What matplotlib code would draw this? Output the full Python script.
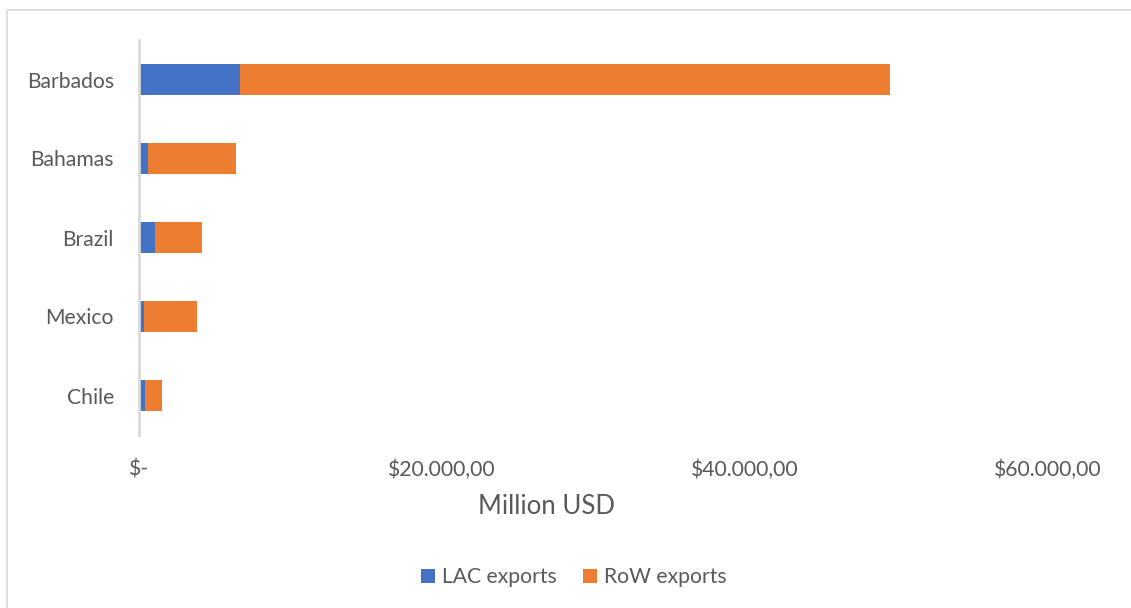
import matplotlib
matplotlib.use("Agg")
import matplotlib.pyplot as plt
from matplotlib.patches import Rectangle

# Export values (million USD)
countries = ["Barbados", "Bahamas", "Brazil", "Mexico", "Chile"]
lac_exports = [6650, 575, 1075, 350, 400]
row_exports = [42900, 5810, 3100, 3480, 1120]
x_ticks = [0, 20000, 40000, 60000]
x_tick_labels = ["$-", "$20.000,00", "$40.000,00", "$60.000,00"]

W, H = 1131, 608
fig = plt.figure(figsize=(W / 100, H / 100), dpi=100)
plt.rcParams["font.family"] = ["Lato", "DejaVu Sans"]

# outer chart frame
fig.patches.append(Rectangle((7 / W, -0.5), 1.2, 1.5 - 10 / H, transform=fig.transFigure,
                             fill=False, edgecolor="#D9D9D9", linewidth=1.2))

ax = fig.add_axes([139 / W, 1 - 435 / H, (1048 - 139) / W, 395 / H])
ypos = list(range(len(countries)))
ax.barh(ypos, lac_exports, height=0.4, color="#4472C4", label="LAC exports")
ax.barh(ypos, row_exports, left=lac_exports, height=0.4, color="#ED7D31", label="RoW exports")

ax.set_ylim(len(countries) - 0.5, -0.5)
ax.set_xlim(0, 60000)
ax.set_yticks(ypos)
ax.set_yticklabels(countries)
ax.set_xticks(x_ticks)
ax.set_xticklabels(x_tick_labels)
ax.tick_params(axis="both", length=0, labelsize=15.2, labelcolor="#595959")
ax.tick_params(axis="x", pad=18)
ax.tick_params(axis="y", pad=18)

for s in ["top", "right", "bottom"]:
    ax.spines[s].set_visible(False)
ax.spines["left"].set_color("#D9D9D9")
ax.spines["left"].set_linewidth(2)

ax.set_xlabel("Million USD", fontsize=18.5, color="#595959")
ax.xaxis.set_label_coords((547 - 139) / 909, -(494 - 435) / 395)

leg = fig.legend(loc="center", bbox_to_anchor=(574 / W, 1 - 577 / H), ncol=2, frameon=False,
                 fontsize=15.2, handlelength=0.65, handleheight=0.65, handletextpad=0.35,
                 columnspacing=1.25)
for t in leg.get_texts():
    t.set_color("#595959")

fig.savefig("out.png", dpi=100)
